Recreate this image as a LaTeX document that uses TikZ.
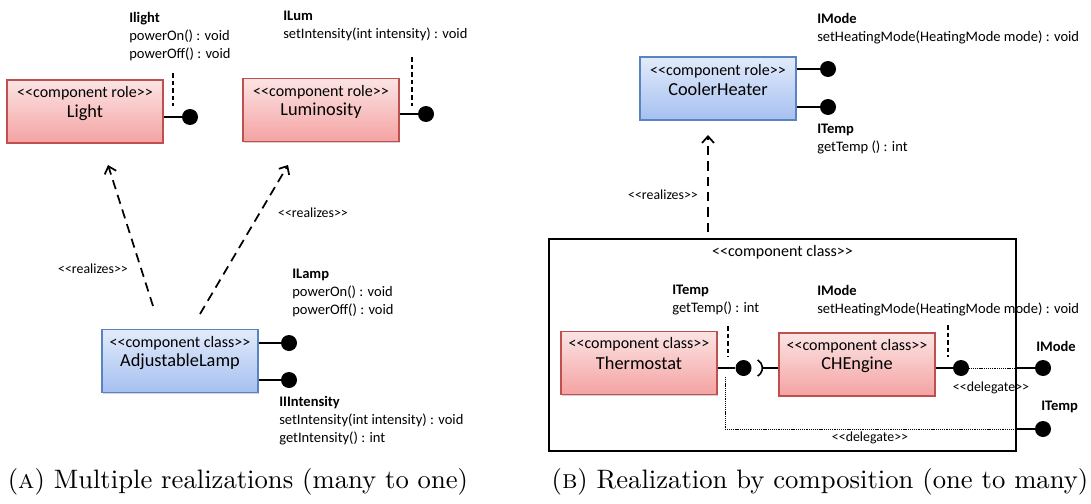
\documentclass[tikz,border=0pt]{standalone}
\usepackage{fontspec}
\newfontfamily\diagfont{Carlito}
\usetikzlibrary{arrows.meta,shadows,calc}
% stereotype brackets, kept apart so the TeX mapping never turns them into guillemets
\newcommand\stopen{<\kern0pt<}
\newcommand\stclose{>\kern0pt>}
\definecolor{redtop}{HTML}{FCE4E4}
\definecolor{redbot}{HTML}{F4A2A2}
\definecolor{redline}{HTML}{C0504D}
\definecolor{bluetop}{HTML}{E2EBFB}
\definecolor{bluebot}{HTML}{A5C0F0}
\definecolor{blueline}{HTML}{5A83C2}
\begin{document}
\begin{tikzpicture}[x=0.75pt,y=-0.75pt,
  compbox/.style={rectangle, inner sep=0pt, minimum width=117pt, minimum height=47.25pt,
    line width=0.8pt, drop shadow={shadow xshift=1.1pt, shadow yshift=-1.1pt, opacity=0.35}},
  redbox/.style={compbox, draw=redline, top color=redtop, bottom color=redbot},
  bluebox/.style={compbox, draw=blueline, top color=bluetop, bottom color=bluebot},
  stereo/.style={inner sep=0pt, font=\diagfont\fontsize{12}{14}\selectfont},
  cname/.style={inner sep=0pt, font=\diagfont\fontsize{13.75}{16}\selectfont},
  iface/.style={inner sep=0pt, anchor=north west, align=left,
    font=\diagfont\fontsize{10.9}{13.4}\selectfont},
  small/.style={inner sep=0pt, font=\diagfont\fontsize{10.4}{12}\selectfont},
  ball/.style={circle, fill=black, inner sep=0pt, minimum size=12pt},
  stick/.style={line width=1.2pt},
  tick/.style={line width=0.8pt, dash pattern=on 3.5pt off 2.2pt},
  realize/.style={line width=1.3pt, dash pattern=on 7pt off 4.5pt,
    -{Straight Barb[length=5pt,width=9pt]}},
  deleg/.style={line width=0.7pt, dash pattern=on 0.8pt off 0.6pt},
  caption/.style={inner sep=0pt}
]
\useasboundingbox (0,0) rectangle (1091,503);

% ---------------- (a) multiple realizations ----------------
\node[redbox] (light) at (85,111.5) {};
\node[stereo] (light-s) at ($(light.north)+(0,14)$) {\stopen component role\stclose};
\node[cname] (light-n) at ($(light.north)+(0,33)$) {Light};

\node[redbox] (lum) at (321,110) {};
\node[stereo] (lum-s) at ($(lum.north)+(0,14)$) {\stopen component role\stclose};
\node[cname] (lum-n) at ($(lum.north)+(0,33)$) {Luminosity};

\node[bluebox] (lamp) at (180,361) {};
\node[stereo] (lamp-s) at ($(lamp.north)+(0,14)$) {\stopen component class\stclose};
\node[cname] (lamp-n) at ($(lamp.north)+(0,33)$) {AdjustableLamp};

% provided interfaces
\node[ball] (lightb) at (190,117) {};
\draw[stick] (light.east |- lightb) -- (lightb);
\draw[tick] (173,73) -- (173,106);
\node[iface] (ilight) at (129,12) {\textbf{Ilight}\\powerOn() : void\\powerOff() : void};

\node[ball] (lumb) at (426,114) {};
\draw[stick] (lum.east |- lumb) -- (lumb);
\draw[tick] (412,57) -- (412,106);
\node[iface] (ilum) at (283,11) {\textbf{ILum}\\setIntensity(int intensity) : void};

\node[ball] (lampb) at (289,343) {};
\draw[stick] (lamp.east |- lampb) -- (lampb);
\node[iface] (ilamp) at (292,269) {\textbf{ILamp}\\powerOn() : void\\powerOff() : void};

\node[ball] (intb) at (289,380) {};
\draw[stick] (lamp.east |- intb) -- (intb);
\node[iface] (iint) at (279,396) {\textbf{IIIntensity}\\setIntensity(int intensity) : void\\getIntensity() : int};

% realization arrows
\coordinate (ra1) at (153,306);
\coordinate (ra1t) at (108,165);
\coordinate (ra2) at (200,314);
\coordinate (ra2t) at (288,165);
\draw[realize] (ra1) -- (ra1t);
\draw[realize] (ra2) -- (ra2t);
\node[small] (rl1) at (93,269) {\stopen realizes\stclose};
\node[small] (rl2) at (313,213) {\stopen realizes\stclose};

\node[caption] (capa) at (238,482) {\scalebox{2}{\fontsize{10}{12}\selectfont (\textsc{a}) Multiple realizations (many to one)}};

% ---------------- (b) realization by composition ----------------
\node[bluebox] (cool) at (718,88.5) {};
\node[stereo] (cool-s) at ($(cool.north)+(0,15)$) {\stopen component role\stclose};
\node[cname] (cool-n) at ($(cool.north)+(0,33)$) {CoolerHeater};

\node[ball] (coolm) at (828,69) {};
\draw[stick] (cool.east |- coolm) -- (coolm);
\node[iface] (imode1) at (817,13) {\textbf{IMode}\\setHeatingMode(HeatingMode mode) : void};
\node[ball] (coolt) at (828,107) {};
\draw[stick] (cool.east |- coolt) -- (coolt);
\node[iface] (itemp1) at (817,124) {\textbf{ITemp}\\getTemp () : int};

% composite class
\node[rectangle, draw, line width=1.3pt, inner sep=0pt, minimum width=350.25pt,
  minimum height=159pt] (cc) at (782.5,345) {};
\node[stereo] (cc-s) at ($(cc.north)+(0,14)$) {\stopen component class\stclose};

\coordinate (ra3) at (708,232);
\coordinate (ra3t) at (708,135);
\draw[realize] (ra3) -- (ra3t);
\node[small] (rl3) at (663,195) {\stopen realizes\stclose};

\node[redbox] (thermo) at (639,363) {};
\node[stereo] (thermo-s) at ($(thermo.north)+(0,13.5)$) {\stopen component class\stclose};
\node[cname] (thermo-n) at ($(thermo.north)+(0,32.5)$) {Thermostat};

\node[redbox] (che) at (857,364.5) {};
\node[stereo] (che-s) at ($(che.north)+(0,13.5)$) {\stopen component class\stclose};
\node[cname] (che-n) at ($(che.north)+(0,32.5)$) {CHEngine};

% ITemp: provided by Thermostat, required by CHEngine
\node[ball] (thb) at (743.5,368) {};
\draw[stick] (thermo.east |- thb) -- (thb);
\draw[tick] (728,326) -- (728,357);
\coordinate (sk) at (753,368);
\draw[stick] ([shift={(-60:7pt)}]sk) arc[start angle=-60, end angle=60, radius=7pt];
\draw[stick] ([xshift=7pt]sk) -- (che.west |- sk);
\node[iface] (itemp2) at (672,285) {\textbf{ITemp}\\getTemp() : int};

% IMode: provided by CHEngine
\node[ball] (chb) at (961,368) {};
\draw[stick] (che.east |- chb) -- (chb);
\draw[tick] (948,325) -- (948,357);
\node[iface] (imode2) at (817,285) {\textbf{IMode}\\setHeatingMode(HeatingMode mode) : void};

% ports on the boundary and their delegations
\node[ball] (omb) at (1043,368) {};
\node[ball] (otb) at (1043,429) {};
\draw[deleg] (chb) -- (cc.east |- chb);
\draw[stick] (cc.east |- chb) -- (omb);
\coordinate (tdel) at (725,377);
\draw[deleg] (tdel) |- (cc.east |- otb);
\draw[stick] (cc.east |- otb) -- (otb);
\node[small] (dl1) at (991,388) {\stopen delegate\stclose};
\node[small] (dl2) at (870,438) {\stopen delegate\stclose};
\node[inner sep=0pt, anchor=west, font=\diagfont\fontsize{10.9}{13}\selectfont\bfseries] (omode) at (1036,346) {IMode};
\node[inner sep=0pt, anchor=west, font=\diagfont\fontsize{10.9}{13}\selectfont\bfseries] (otemp) at (1041,407) {ITemp};

\node[caption] (capb) at (820,482) {\scalebox{2}{\fontsize{10}{12}\selectfont (\textsc{b}) Realization by composition (one to many)}};
\end{tikzpicture}
\end{document}
